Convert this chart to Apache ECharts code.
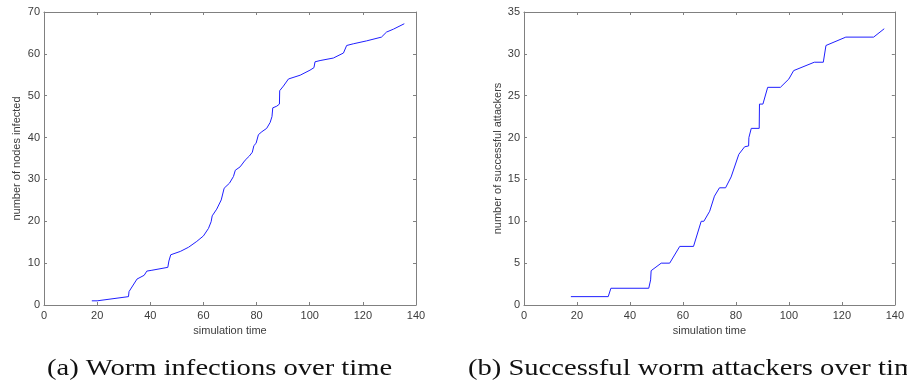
<!DOCTYPE html>
<html>
<head>
<meta charset="utf-8">
<script src="https://cdn.jsdelivr.net/npm/echarts@6/dist/echarts.min.js"></script>
<style>
  html, body { margin: 0; padding: 0; background: #fff; }
  #chart { width: 907px; height: 387px; }
</style>
</head>
<body>
<div id="chart"></div>
<script>
// (a) worm infections
const timeA = [18, 20, 20.2, 31.8, 32, 35, 37.7, 38.7, 40.6, 46.6, 47, 47.7, 51.3, 54.4, 57.5, 60, 61.9, 62.9, 63.3, 65, 66.7, 67.8, 69.8, 71.3, 72, 73.8, 75.7, 77.3, 78.4, 79, 79.8, 80.7, 82, 83.8, 85.1, 85.8, 86.1, 87.6, 88.6, 88.7, 90.1, 92, 96.4, 100.1, 101.6, 102, 103.9, 108.9, 112.7, 113.9, 116.4, 121.4, 127, 128.9, 131.5, 135.6];
const infected = [1, 1, 1.2, 2, 3.2, 6.2, 7.1, 8.1, 8.3, 9, 10.5, 12, 12.8, 13.8, 15.2, 16.5, 18.3, 19.9, 21.3, 22.9, 25.1, 27.9, 29.1, 30.7, 32.2, 33, 34.6, 35.6, 36.5, 38.1, 38.6, 40.7, 41.4, 42.2, 43.6, 45, 47.1, 47.5, 48, 51.2, 52.3, 54, 54.9, 56.1, 56.7, 58.1, 58.4, 59, 60.2, 62, 62.4, 63.1, 64, 65.2, 65.9, 67.2];

// (b) successful attackers
const timeB = [17.7, 31.8, 32.8, 47.1, 47.8, 48, 51.8, 55, 58.8, 64, 66.9, 67.9, 70.1, 71.9, 73.8, 76.1, 78.2, 81.1, 83.3, 84.8, 84.9, 85.8, 88.8, 88.9, 90.2, 92, 96.8, 100, 101.8, 109.6, 113, 114, 121.5, 132, 136];
const attackers = [1, 1, 2, 2, 3, 4.1, 5, 5, 7, 7, 10, 10, 11.2, 13, 14, 14, 15.3, 18, 18.9, 19, 20, 21.1, 21.1, 24, 24, 26, 26, 27, 28, 29, 29, 31, 32, 32, 33];

const xTicks = [0, 140, 20];
const yTicksA = [0, 70, 10];
const yTicksB = [0, 35, 5];

const captionA = "(a) Worm infections over time";
const captionB = "(b) Successful worm attackers over time";
const xName = "simulation time";
const yNameA = "number of nodes infected";
const yNameB = "number of successful attackers";

const LINE = "#808080";
const TEXT = "#3c3c3c";
const SANS = "Liberation Sans, Arial, sans-serif";

function pairs(xs, ys) { return xs.map((x, i) => [x, ys[i]]); }

function xAxes(grid) {
  const base = {
    gridIndex: grid, type: "value",
    min: xTicks[0], max: xTicks[1], interval: xTicks[2],
    axisLine: { show: true, onZero: false, lineStyle: { color: LINE, width: 1 } },
    axisTick: { show: true, inside: true, length: 3, lineStyle: { color: LINE } },
    splitLine: { show: false },
  };
  return [
    Object.assign({}, base, {
      position: "bottom",
      name: xName, nameLocation: "middle", nameGap: 19,
      nameTextStyle: { color: TEXT, fontFamily: SANS, fontSize: 11 },
      axisLabel: { color: TEXT, fontFamily: SANS, fontSize: 11, margin: 5 },
    }),
    Object.assign({}, base, { position: "top", axisLabel: { show: false } }),
  ];
}

function yAxes(grid, t, name, gap) {
  const base = {
    gridIndex: grid, type: "value",
    min: t[0], max: t[1], interval: t[2],
    axisLine: { show: true, onZero: false, lineStyle: { color: LINE, width: 1 } },
    axisTick: { show: true, inside: true, length: 3, lineStyle: { color: LINE } },
    splitLine: { show: false },
  };
  return [
    Object.assign({}, base, {
      position: "left",
      name: name, nameLocation: "middle", nameGap: gap,
      nameTextStyle: { color: TEXT, fontFamily: SANS, fontSize: 11 },
      axisLabel: { color: TEXT, fontFamily: SANS, fontSize: 11, margin: 4 },
    }),
    Object.assign({}, base, { position: "right", axisLabel: { show: false } }),
  ];
}

const chart = echarts.init(document.getElementById("chart"), null, { renderer: "canvas" });
chart.setOption({
  animation: false,
  backgroundColor: "#fff",
  grid: [
    { left: 44, top: 12, width: 372, height: 293 },
    { left: 524, top: 12, width: 372, height: 293 },
  ],
  xAxis: [...xAxes(0), ...xAxes(1)],
  yAxis: [...yAxes(0, yTicksA, yNameA, 22), ...yAxes(1, yTicksB, yNameB, 21)],
  series: [
    {
      type: "line", xAxisIndex: 0, yAxisIndex: 0,
      data: pairs(timeA, infected),
      showSymbol: false, symbol: "none",
      lineStyle: { color: "#1f1fff", width: 1 },
    },
    {
      type: "line", xAxisIndex: 2, yAxisIndex: 2,
      data: pairs(timeB, attackers),
      showSymbol: false, symbol: "none",
      lineStyle: { color: "#1f1fff", width: 1 },
    },
  ],
  graphic: [
    {
      type: "text", x: 47, y: 369, scaleX: 1.19,
      style: { text: captionA, font: "24px 'Liberation Serif', serif", fill: "#111", textVerticalAlign: "middle" },
    },
    {
      type: "text", x: 468, y: 369, scaleX: 1.19,
      style: { text: captionB, font: "24px 'Liberation Serif', serif", fill: "#111", textVerticalAlign: "middle" },
    },
  ],
});
</script>
</body>
</html>
